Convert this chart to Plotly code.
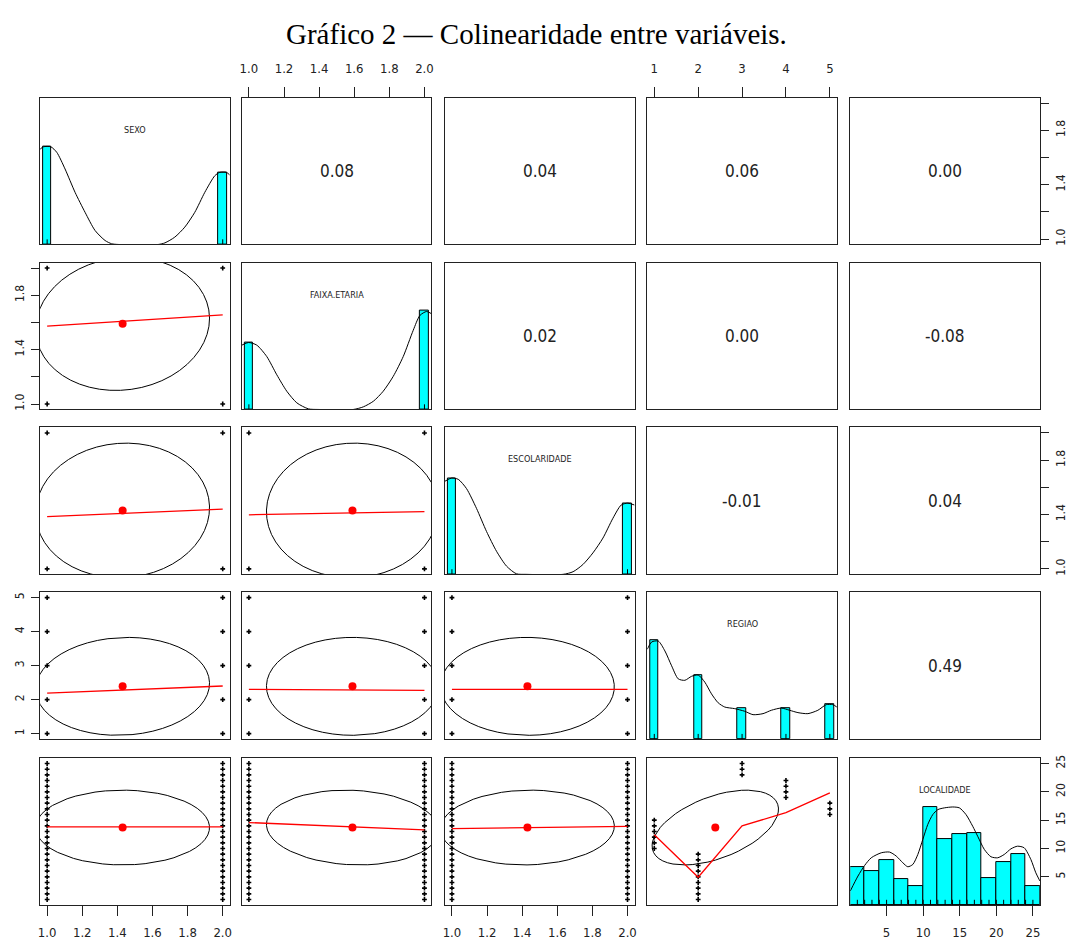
import numpy as np
import plotly.graph_objects as go

# ---------------- data ----------------
names = ["SEXO", "FAIXA.ETARIA", "ESCOLARIDADE", "REGIAO", "LOCALIDADE"]
data_min = [1, 1, 1, 1, 1]
data_max = [2, 2, 2, 5, 25]
means = [1.43, 1.59, 1.43, 2.39, 13.7]
sds = [0.495, 0.49, 0.495, 1.44, 6.6]
corr = [
    [1.00, 0.08, 0.04, 0.06, 0.00],
    [0.08, 1.00, 0.02, 0.00, -0.08],
    [0.04, 0.02, 1.00, -0.01, 0.04],
    [0.06, 0.00, -0.01, 1.00, 0.49],
    [0.00, -0.08, 0.04, 0.49, 1.00],
]
levels = [
    [1, 2],
    [1, 2],
    [1, 2],
    [1, 2, 3, 4, 5],
    [1, 2, 3, 4, 5, 6, 7, 8, 9, 10, 11, 12, 13, 14, 15, 16, 17, 18, 19, 20, 21, 22, 23, 24, 25],
]
# REGIAO of each LOCALIDADE (1..25)
regiao_of_localidade = [2, 2, 2, 2, 2, 2, 2, 2, 2, 1, 1, 1, 1, 1, 1, 5, 5, 5, 4, 4, 4, 4, 3, 3, 3]

# histogram bars (relative density heights)
hist_centers = [
    [1, 2], [1, 2], [1, 2], [1, 2, 3, 4, 5],
    [1, 3, 5, 7, 9, 11, 13, 15, 17, 19, 21, 23, 25],
]
hist_width = [0.05, 0.05, 0.05, 0.2, 2]
hist_heights = [
    [0.665, 0.491],
    [0.455, 0.670],
    [0.656, 0.483],
    [0.672, 0.436, 0.211, 0.211, 0.240],
    [0.260, 0.231, 0.305, 0.174, 0.129, 0.667, 0.446, 0.480, 0.491, 0.186, 0.294, 0.348, 0.129],
]

# density curves
dens_x = [
    [0.96, 0.979, 1.021, 1.055, 1.102, 1.159, 1.216, 1.273, 1.330, 1.367, 1.405, 1.633, 1.671, 1.727, 1.784, 1.841, 1.898, 1.955, 1.983, 2.021, 2.040],
    [0.96, 0.998, 1.045, 1.102, 1.159, 1.216, 1.273, 1.339, 1.396, 1.595, 1.652, 1.709, 1.765, 1.822, 1.879, 1.936, 1.974, 2.012, 2.040],
    [0.96, 0.998, 1.036, 1.083, 1.140, 1.197, 1.254, 1.311, 1.367, 1.424, 1.633, 1.690, 1.746, 1.803, 1.860, 1.917, 1.964, 2.002, 2.040],
    [0.84, 0.939, 1.091, 1.242, 1.394, 1.545, 1.697, 1.848, 2.0, 2.152, 2.303, 2.455, 2.606, 2.833, 3.061, 3.25, 3.477, 3.667, 3.894, 4.083, 4.273, 4.5, 4.727, 4.917, 5.068, 5.16],
    [0.04, 1.09, 2.0, 2.9, 4.27, 5.40, 6.31, 7.22, 7.90, 8.59, 9.27, 9.95, 10.63, 11.31, 12.0, 12.9, 14.04, 14.95, 15.86, 16.77, 17.45, 18.36, 19.27, 20.18, 21.09, 22.0, 22.9, 23.81, 24.72, 25.4, 25.96],
]
dens_y = [
    [0.649, 0.665, 0.665, 0.627, 0.514, 0.355, 0.219, 0.095, 0.027, 0.005, 0.0, 0.0, 0.011, 0.050, 0.118, 0.219, 0.355, 0.468, 0.491, 0.491, 0.473],
    [0.438, 0.456, 0.438, 0.360, 0.236, 0.124, 0.045, 0.004, 0.0, 0.0, 0.018, 0.056, 0.124, 0.225, 0.360, 0.539, 0.640, 0.667, 0.652],
    [0.634, 0.656, 0.647, 0.584, 0.449, 0.292, 0.157, 0.056, 0.004, 0.0, 0.0, 0.018, 0.067, 0.146, 0.247, 0.382, 0.472, 0.485, 0.472],
    [0.611, 0.661, 0.667, 0.600, 0.499, 0.410, 0.400, 0.427, 0.436, 0.387, 0.308, 0.247, 0.218, 0.207, 0.189, 0.166, 0.173, 0.196, 0.211, 0.196, 0.180, 0.173, 0.196, 0.234, 0.234, 0.218],
    [0.095, 0.197, 0.269, 0.321, 0.355, 0.360, 0.333, 0.287, 0.260, 0.276, 0.344, 0.446, 0.548, 0.615, 0.649, 0.661, 0.667, 0.661, 0.615, 0.536, 0.468, 0.378, 0.328, 0.321, 0.344, 0.382, 0.400, 0.389, 0.310, 0.219, 0.163],
]

# smoothed (lowess) lines in lower panels: (row, col) -> (x, y)
smooth = {
    (1, 0): ([1, 2], [1.573, 1.655]),
    (2, 0): ([1, 2], [1.385, 1.44]),
    (2, 1): ([1, 2], [1.398, 1.422]),
    (3, 0): ([1, 2], [2.19, 2.40]),
    (3, 1): ([1, 2], [2.30, 2.27]),
    (3, 2): ([1, 2], [2.30, 2.30]),
    (4, 0): ([1, 2], [13.8, 13.8]),
    (4, 1): ([1, 2], [14.58, 13.28]),
    (4, 2): ([1, 2], [13.5, 13.9]),
    (4, 3): ([1, 2, 3, 4, 5], [12.42, 4.94, 13.99, 16.33, 19.83]),
}

x_tickvals = [[1.0, 1.2, 1.4, 1.6, 1.8, 2.0]] * 3 + [[1, 2, 3, 4, 5], [5, 10, 15, 20, 25]]
x_ticktext = [["1.0", "1.2", "1.4", "1.6", "1.8", "2.0"]] * 3 + [["1", "2", "3", "4", "5"], ["5", "10", "15", "20", "25"]]
y_ticktext = [["1.0", "", "1.4", "", "1.8", ""]] * 3 + [["1", "2", "3", "4", "5"], ["5", "10", "15", "20", "25"]]

title_text = "Gráfico 2 — Colinearidade entre variáveis."

# ---------------- layout geometry ----------------
W, H = 1068, 940
col_left = [38.3, 241.0, 445.0, 648.3, 852.3]
row_top = [95.0, 260.7, 426.3, 591.7, 758.3]
PW, PH = 190.5, 147.5
INK = "#222222"
COND = "DejaVu Sans Condensed, Liberation Sans Narrow, Liberation Sans, Arial, sans-serif"


def padded(i):
    lo, hi = data_min[i], data_max[i]
    d = (hi - lo) * 0.04
    return [lo - d, hi + d]


def ax_names(r, c):
    k = r * 5 + c + 1
    s = "" if k == 1 else str(k)
    return "x" + s, "y" + s, "xaxis" + s, "yaxis" + s


fig = go.Figure()
layout = {}
annotations = []


def base_axis():
    return dict(showgrid=False, zeroline=False, showline=True, mirror=True,
                linecolor=INK, linewidth=1, ticks="", showticklabels=False,
                fixedrange=True)


for r in range(5):
    for c in range(5):
        xa, ya, xk, yk = ax_names(r, c)
        xd = [col_left[c] / W, (col_left[c] + PW) / W]
        yd = [1 - (row_top[r] + PH) / H, 1 - row_top[r] / H]
        xax = base_axis()
        xax.update(domain=xd, anchor=ya, range=padded(c))
        yax = base_axis()
        yax.update(domain=yd, anchor=xa, range=[0, 1] if r == c else padded(r))

        # x ticks
        if (r == 0 and c in (1, 3)) or (r == 4 and c in (0, 2, 4)):
            xax.update(side="top" if r == 0 else "bottom", ticks="outside",
                       ticklen=10, tickwidth=1, tickcolor=INK,
                       tickvals=x_tickvals[c], ticktext=x_ticktext[c],
                       showticklabels=True, ticklabelstandoff=8 if r == 0 else 5,
                       tickfont=dict(family=COND, size=13, color=INK))
        # y ticks (not on diag)
        if r != c and ((c == 0 and r in (1, 3)) or (c == 4 and r in (0, 2))):
            yax.update(side="left" if c == 0 else "right", ticks="outside",
                       ticklen=8, tickwidth=1, tickcolor=INK,
                       tickvals=x_tickvals[r], ticktext=y_ticktext[r],
                       showticklabels=True, tickangle=-90, ticklabelstandoff=2,
                       tickfont=dict(family=COND, size=12, color=INK))
        layout[xk] = xax
        layout[yk] = yax

        if r == c:
            i = r
            fig.add_trace(go.Bar(
                x=hist_centers[i], y=hist_heights[i],
                width=[hist_width[i]] * len(hist_centers[i]),
                marker=dict(color="#00FFFF", line=dict(color="black", width=1)),
                xaxis=xa, yaxis=ya, showlegend=False, hoverinfo="skip"))
            rx, ry = [], []
            for v in levels[i]:
                rx += [v, v, None]
                ry += [0, 0.035, None]
            fig.add_trace(go.Scatter(x=rx, y=ry, mode="lines",
                                     line=dict(color="black", width=1),
                                     xaxis=xa, yaxis=ya, showlegend=False, hoverinfo="skip"))
            fig.add_trace(go.Scatter(x=dens_x[i], y=dens_y[i], mode="lines",
                                     line=dict(color="black", width=1, shape="spline", smoothing=0.7),
                                     xaxis=xa, yaxis=ya, showlegend=False, hoverinfo="skip"))
            annotations.append(dict(text=names[i], x=0.5, y=0.83,
                                    xref=xa + " domain", yref=ya + " domain",
                                    showarrow=False,
                                    font=dict(family=COND, size=9, color=INK)))
        elif r < c:
            # empty trace so the panel (and its axes) is drawn
            fig.add_trace(go.Scatter(x=[None], y=[None], mode="markers",
                                     xaxis=xa, yaxis=ya, showlegend=False, hoverinfo="skip"))
            annotations.append(dict(text=f"{corr[r][c]:.2f}", x=0.5, y=0.5,
                                    xref=xa + " domain", yref=ya + " domain",
                                    showarrow=False,
                                    font=dict(family=COND, size=17, color=INK)))
        else:
            # scatter points
            if (r, c) == (4, 3):
                px = regiao_of_localidade
                py = levels[4]
            else:
                px, py = [], []
                for a in levels[c]:
                    for b in levels[r]:
                        px.append(a)
                        py.append(b)
            fig.add_trace(go.Scatter(x=px, y=py, mode="markers",
                                     marker=dict(symbol="cross", size=4, color="black"),
                                     xaxis=xa, yaxis=ya, showlegend=False, hoverinfo="skip"))
            # correlation ellipse (1 sd)
            rr = corr[r][c]
            th = 1 / np.sqrt(2)
            ang = np.linspace(0, 2 * np.pi, 52)
            ex = means[c] + sds[c] * th * (np.cos(ang) * np.sqrt(1 + rr) - np.sin(ang) * np.sqrt(1 - rr))
            ey = means[r] + sds[r] * th * (np.cos(ang) * np.sqrt(1 + rr) + np.sin(ang) * np.sqrt(1 - rr))
            fig.add_trace(go.Scatter(x=ex, y=ey, mode="lines",
                                     line=dict(color="black", width=1),
                                     xaxis=xa, yaxis=ya, showlegend=False, hoverinfo="skip"))
            sx, sy = smooth[(r, c)]
            fig.add_trace(go.Scatter(x=sx, y=sy, mode="lines",
                                     line=dict(color="red", width=1.3),
                                     xaxis=xa, yaxis=ya, showlegend=False, hoverinfo="skip"))
            fig.add_trace(go.Scatter(x=[means[c]], y=[means[r]], mode="markers",
                                     marker=dict(symbol="circle", size=8, color="red"),
                                     xaxis=xa, yaxis=ya, showlegend=False, hoverinfo="skip"))

# right axis for the LOCALIDADE diagonal panel (variable scale)
layout["yaxis26"] = dict(overlaying="y25", anchor="x25", side="right", range=padded(4),
                         showgrid=False, zeroline=False, showline=False,
                         ticks="outside", ticklen=8, tickwidth=1, tickcolor=INK,
                         tickvals=x_tickvals[4], ticktext=y_ticktext[4],
                         showticklabels=True, tickangle=-90, ticklabelstandoff=2,
                         tickfont=dict(family=COND, size=12, color=INK), fixedrange=True)
fig.add_trace(go.Scatter(x=[None], y=[None], mode="markers", xaxis="x25", yaxis="y26",
                         showlegend=False, hoverinfo="skip"))

annotations.append(dict(text=title_text, x=537 / W, y=1 - 31 / H, xref="paper", yref="paper",
                        showarrow=False, xanchor="center", yanchor="middle",
                        font=dict(family="Liberation Serif, DejaVu Serif, serif", size=29, color="black")))

fig.update_layout(width=W, height=H, autosize=False,
                  margin=dict(l=0, r=0, t=0, b=0),
                  paper_bgcolor="white", plot_bgcolor="white",
                  showlegend=False, bargap=0,
                  annotations=annotations, **layout)

fig.write_html("out.html", config={"displayModeBar": False},
               post_script="document.body.style.margin='0';document.body.style.padding='0';")
